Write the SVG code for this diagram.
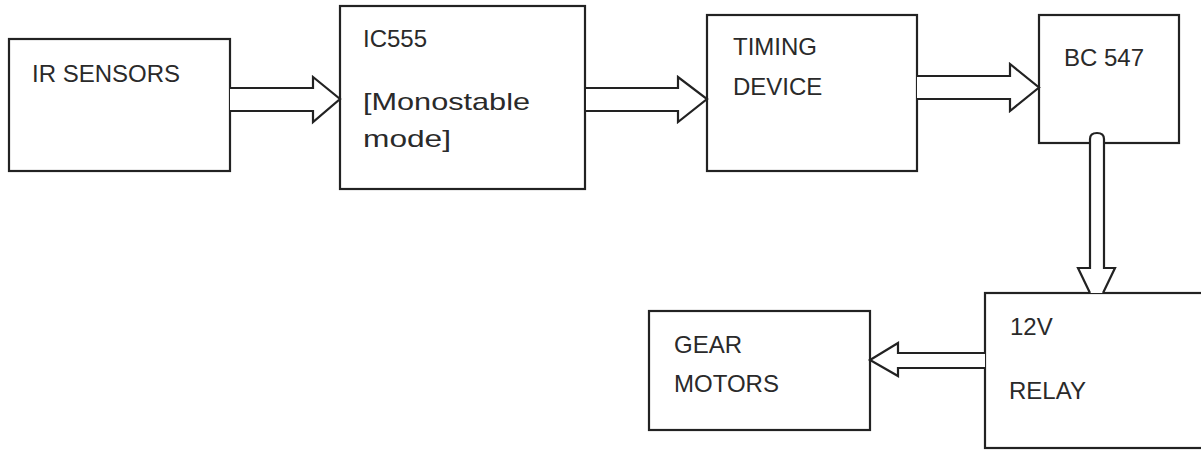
<svg xmlns="http://www.w3.org/2000/svg" width="1201" height="451" viewBox="0 0 1201 451">
<style>
.box{fill:#fff;stroke:#222;stroke-width:2.2}
.arr{fill:#fff;stroke:#222;stroke-width:2.2;stroke-linejoin:miter}
text{font-family:"Liberation Sans",Arial,sans-serif;font-size:24px;fill:#2a2a2a}
</style>
<rect width="1201" height="451" fill="#fff"/>
<g id="ir-sensors">
<rect class="box" x="9" y="39" width="221" height="132"/>
<text x="32" y="82">IR SENSORS</text>
</g>
<g id="ic555">
<rect class="box" x="340" y="6" width="245" height="183"/>
<text x="363" y="47">IC555</text>
<text x="363" y="110" textLength="167" lengthAdjust="spacingAndGlyphs">[Monostable</text>
<text x="363" y="147" textLength="88" lengthAdjust="spacingAndGlyphs">mode]</text>
</g>
<g id="timing-device">
<rect class="box" x="707" y="15" width="210" height="156"/>
<text x="733" y="55">TIMING</text>
<text x="733" y="95">DEVICE</text>
</g>
<g id="bc547">
<rect class="box" x="1039" y="15" width="140" height="128"/>
<text x="1064" y="66">BC 547</text>
</g>
<g id="relay">
<rect class="box" x="985" y="293" width="230" height="155"/>
<text x="1010" y="335">12V</text>
<text x="1009" y="399">RELAY</text>
</g>
<g id="gear-motors">
<rect class="box" x="649" y="311" width="221" height="119"/>
<text x="674" y="353">GEAR</text>
<text x="674" y="392">MOTORS</text>
</g>
<g id="connectors">
<polyline class="arr" points="230,88 313,88 313,77 340,99 313,122 313,111 230,111"/>
<polyline class="arr" points="586,88 678,88 678,77 707,99 678,122 678,111 586,111"/>
<polyline class="arr" points="917,76 1010,76 1010,64 1039,87.5 1010,111 1010,99 917,99"/>
<path class="arr" d="M1090,293 L1078,268 L1090,268 L1090,139 Q1090,133 1097,133 Q1104,133 1104,139 L1104,268 L1115,268 L1103,293"/>
<polyline class="arr" points="985,353 898,353 898,343 870,360 898,376 898,368 985,368"/>
</g>
</svg>
